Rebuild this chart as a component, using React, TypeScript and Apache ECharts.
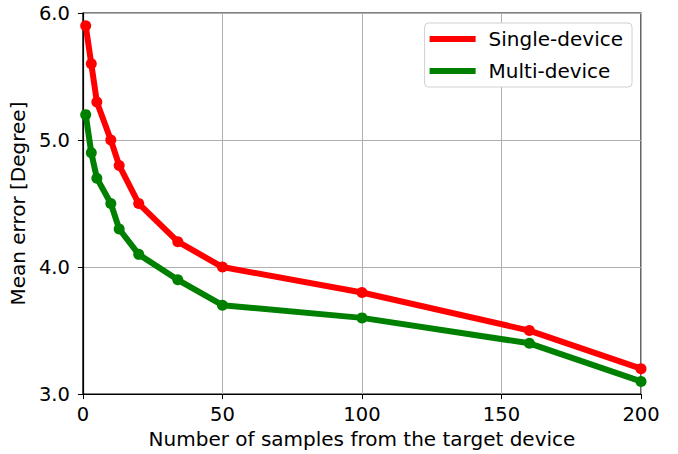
import React, { useEffect, useRef } from "react";
import * as echarts from "echarts";

const samples = [1, 3, 5, 10, 13, 20, 34, 50, 100, 160, 200];
const singleDevice = [5.9, 5.6, 5.3, 5.0, 4.8, 4.5, 4.2, 4.0, 3.8, 3.5, 3.2];
const multiDevice = [5.2, 4.9, 4.7, 4.5, 4.3, 4.1, 3.9, 3.7, 3.6, 3.4, 3.1];

export default function App() {
  const ref = useRef<HTMLDivElement>(null);
  useEffect(() => {
    const chart = echarts.init(ref.current!, null, { renderer: "svg" });
    const font = "DejaVu Sans";
    const fs = 19.5;
    const ft = 20;
    chart.setOption({
      animation: false,
      textStyle: { fontFamily: font },
      grid: {
        left: 82, right: 37, top: 13, bottom: 59,
        show: true, borderColor: "#000", borderWidth: 1.2, backgroundColor: "transparent",
      },
      legend: {
        right: 46, top: 23,
        orient: "vertical",
        data: ["Single-device", "Multi-device"],
        icon: "rect",
        itemWidth: 46, itemHeight: 6, itemGap: 12,
        padding: [6, 9, 6, 5],
        backgroundColor: "#fff",
        borderColor: "#d0d0d0", borderWidth: 1, borderRadius: 4,
        textStyle: { fontFamily: font, fontSize: ft, color: "#000", padding: [0, 0, 0, 8] },
      },
      xAxis: {
        type: "value", min: 0, max: 200, interval: 50,
        name: "Number of samples from the target device",
        nameLocation: "middle", nameGap: 33,
        nameTextStyle: { fontFamily: font, fontSize: ft, color: "#000" },
        axisLine: { show: true, onZero: false, lineStyle: { color: "#000", width: 1.2 } },
        axisTick: { show: true, length: 5, lineStyle: { color: "#000" } },
        axisLabel: { fontFamily: font, fontSize: fs, color: "#000", margin: 10 },
        splitLine: { show: true, lineStyle: { color: "#b0b0b0", width: 1 } },
      },
      yAxis: {
        type: "value", min: 3, max: 6, interval: 1,
        name: "Mean error [Degree]",
        nameLocation: "middle", nameGap: 52,
        nameTextStyle: { fontFamily: font, fontSize: ft, color: "#000" },
        axisLine: { show: true, lineStyle: { color: "#000", width: 1.2 } },
        axisTick: { show: true, length: 5, lineStyle: { color: "#000" } },
        axisLabel: { fontFamily: font, fontSize: fs, color: "#000", margin: 13, formatter: (v: number) => v.toFixed(1) },
        splitLine: { show: true, lineStyle: { color: "#b0b0b0", width: 1 } },
      },
      series: [
        {
          name: "Single-device", type: "line",
          data: samples.map((x, i) => [x, singleDevice[i]]),
          color: "#ff0000",
          lineStyle: { width: 6, color: "#ff0000" },
          itemStyle: { color: "#ff0000" },
          symbol: "circle", symbolSize: 11, showSymbol: true,
          clip: false, z: 3,
        },
        {
          name: "Multi-device", type: "line",
          data: samples.map((x, i) => [x, multiDevice[i]]),
          color: "#008000",
          lineStyle: { width: 6, color: "#008000" },
          itemStyle: { color: "#008000" },
          symbol: "circle", symbolSize: 11, showSymbol: true,
          clip: false, z: 2,
        },
      ],
    });
    return () => chart.dispose();
  }, []);
  return <div ref={ref} style={{ width: 678, height: 454, position: "absolute", left: 0, top: 0 }} />;
}
